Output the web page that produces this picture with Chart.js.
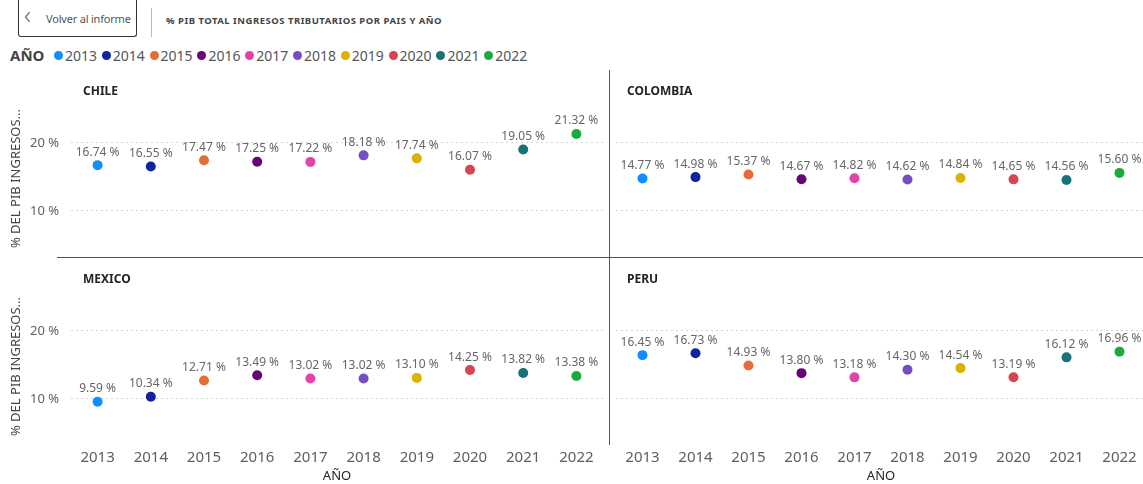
<!DOCTYPE html>
<html>
<head>
<meta charset="utf-8">
<script src="https://cdn.jsdelivr.net/npm/chart.js@4.4.0/dist/chart.umd.min.js"></script>
<style>
  body { margin: 0; width: 1143px; height: 484px; position: relative; background: #fff; overflow: hidden;
         font-family: "Segoe UI", "Noto Sans", sans-serif; }
  .abs { position: absolute; }
  #back { left: 18px; top: -3px; width: 117px; height: 39px; border: 1.5px solid #333; border-top: none;
          border-radius: 0 0 3px 3px; font-size: 11px; color: #555; white-space: nowrap; }
  #back .chev { position: absolute; left: 5px; top: 4px; font-size: 26px; line-height: 26px; color: #777; font-weight: 300; }
  #back .txt { position: absolute; left: 27px; top: 14px; letter-spacing: -0.2px; }
  #sep { left: 151px; top: 8px; width: 1px; height: 29px; background: #bbb; }
  #title { left: 166px; top: 14px; font-size: 9.5px; font-weight: 700; color: #444; letter-spacing: 0.5px; white-space: nowrap; }
  #legend { left: 10px; top: 45px; height: 20px; display: flex; align-items: center; }
  #legend .head { font-size: 15px; font-weight: 700; color: #444; width: 44px; }
  #legend .item { width: 47.8px; display: flex; align-items: center; font-size: 14px; color: #555; }
  #legend .dot { width: 9px; height: 9px; border-radius: 50%; margin-right: 2px; }
  .ptitle { font-size: 12px; font-weight: 700; color: #252423; }
  canvas { position: absolute; }
  .line { background: #555; }
</style>
</head>
<body>
<div id="back" class="abs"><span class="chev">&lsaquo;</span><span class="txt">Volver al informe</span></div>
<div id="sep" class="abs"></div>
<div id="title" class="abs">% PIB TOTAL INGRESOS TRIBUTARIOS POR PAIS Y AÑO</div>
<div id="legend" class="abs"></div>

<canvas id="cChile" style="left:0px;top:70px" width="608" height="226"></canvas>
<canvas id="cColombia" style="left:610px;top:70px" width="541" height="226"></canvas>
<canvas id="cMexico" style="left:0px;top:257px" width="608" height="227"></canvas>
<canvas id="cPeru" style="left:610px;top:257px" width="541" height="227"></canvas>

<div class="abs ptitle" style="left:83px;top:82px">CHILE</div>
<div class="abs ptitle" style="left:627px;top:82px">COLOMBIA</div>
<div class="abs ptitle" style="left:83px;top:270px">MEXICO</div>
<div class="abs ptitle" style="left:627px;top:270px">PERU</div>

<div class="abs line" style="left:57px;top:257px;width:1086px;height:1px"></div>
<div class="abs line" style="left:609px;top:70px;width:1px;height:375px"></div>

<script>
// data
const years = ['2013', '2014', '2015', '2016', '2017', '2018', '2019', '2020', '2021', '2022'];
const yearColors = ['#118DFF', '#12239E', '#E66C37', '#6B007B', '#E044A7', '#744EC2', '#D9B300', '#D64550', '#197278', '#1AAB40'];
const chile = [16.74, 16.55, 17.47, 17.25, 17.22, 18.18, 17.74, 16.07, 19.05, 21.32];
const colombia = [14.77, 14.98, 15.37, 14.67, 14.82, 14.62, 14.84, 14.65, 14.56, 15.60];
const mexico = [9.59, 10.34, 12.71, 13.49, 13.02, 13.02, 13.10, 14.25, 13.82, 13.38];
const peru = [16.45, 16.73, 14.93, 13.80, 13.18, 14.30, 14.54, 13.19, 16.12, 16.96];
const yTicks = [10, 20];
const yTitle = '% DEL PIB INGRESOS...';
const xTitle = 'AÑO';

const FONT = '"Segoe UI", "Noto Sans", sans-serif';
Chart.defaults.font.family = FONT;

// legend
const legend = document.getElementById('legend');
legend.innerHTML = '<span class="head">AÑO</span>' + years.map((y, i) =>
  '<span class="item"><span class="dot" style="background:' + yearColors[i] + '"></span>' + y + '</span>').join('');

// value labels above each point
const valueLabels = {
  id: 'valueLabels',
  afterDatasetsDraw(chart) {
    const ctx = chart.ctx;
    ctx.save();
    ctx.font = '12px ' + FONT;
    ctx.fillStyle = '#666';
    ctx.textAlign = 'center';
    ctx.textBaseline = 'middle';
    chart.getDatasetMeta(0).data.forEach((pt, i) => {
      const v = chart.data.datasets[0].data[i];
      ctx.fillText(v.toFixed(2) + ' %', pt.x, pt.y - 13);
    });
    ctx.restore();
  }
};

// top panels use the same layout; their x axis sits under the bottom panels and is left blank
function makePanel(id, values, showY, showX) {
  new Chart(document.getElementById(id), {
    type: 'line',
    data: {
      labels: years,
      datasets: [{
        data: values,
        showLine: false,
        clip: false,
        pointRadius: 5,
        pointHoverRadius: 5,
        pointBorderWidth: 0,
        pointBackgroundColor: yearColors,
        pointBorderColor: yearColors
      }]
    },
    options: {
      responsive: false,
      animation: false,
      layout: { padding: { top: showX ? 31 : 30, right: showY ? 4 : 0, bottom: 0, left: 0 } },
      plugins: { legend: { display: false }, tooltip: { enabled: false } },
      scales: {
        x: {
          offset: true,
          grid: { display: false, drawTicks: false },
          border: { display: false },
          ticks: { color: showX ? '#605E5C' : 'rgba(0,0,0,0)', font: { size: 15 }, padding: 4, maxRotation: 0 },
          title: { display: true, text: xTitle, color: showX ? '#252423' : 'rgba(0,0,0,0)', font: { size: 13 }, padding: { top: 0, bottom: 0 } },
          afterFit(scale) { scale.height = 39; }
        },
        y: {
          min: 3.235,
          max: 26.32,
          afterBuildTicks(scale) { scale.ticks = yTicks.map(v => ({ value: v })); },
          grid: { color: '#d6d6d6', drawTicks: false },
          border: { display: false, dash: [2, 3] },
          ticks: {
            display: showY,
            color: '#605E5C',
            font: { size: 13 },
            padding: 12,
            callback: v => v + ' %'
          },
          title: { display: showY, text: yTitle, color: '#444', font: { size: 13 }, padding: { top: 8, bottom: 0 } },
          afterFit(scale) { scale.width = showY ? 71 : 6; }
        }
      }
    },
    plugins: [valueLabels]
  });
}

makePanel('cChile', chile, true, false);
makePanel('cColombia', colombia, false, false);
makePanel('cMexico', mexico, true, true);
makePanel('cPeru', peru, false, true);
</script>
</body>
</html>
